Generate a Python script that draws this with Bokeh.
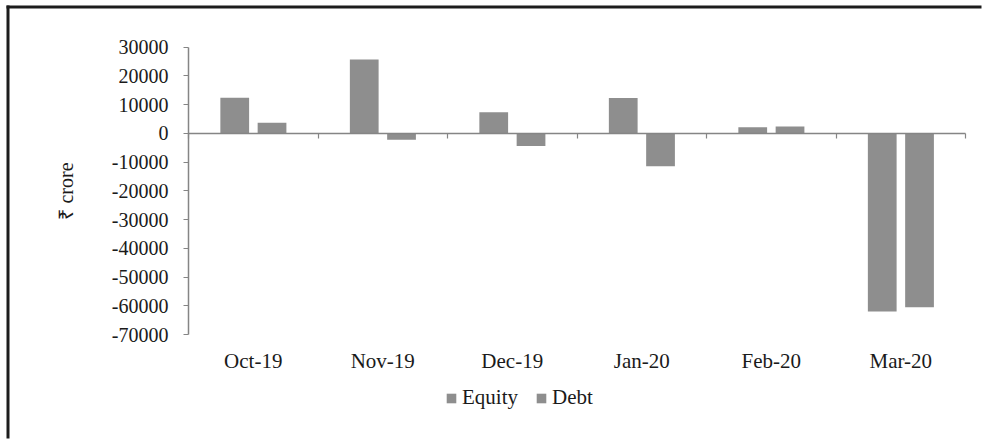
from bokeh.plotting import figure
from bokeh.models import (Range1d, FixedTicker, Legend, LegendItem,
                          ColumnDataSource, LinearAxis)
from bokeh.embed import file_html
from bokeh.resources import INLINE

# Monthly net FPI flows, in ₹ crore
months = ["Oct-19", "Nov-19", "Dec-19", "Jan-20", "Feb-20", "Mar-20"]
equity = [12400, 25700, 7400, 12300, 2100, -62000]
debt = [3700, -2200, -4400, -11400, 2400, -60500]
y_ticks = list(range(-70000, 30001, 10000))

FONT = "Liberation Serif"
BAR = "#8e8e8e"
AXIS = "#858585"
INK = "#1a1a1a"

# page geometry (pixels): the frame fills the canvas and the axes are
# pinned inside it, so the legend and the border can sit anywhere
W, H = 982, 439
AX_L, AX_R = 188, 965        # horizontal extent of the category axis
AX_T, AX_B = 46.7, 334       # pixel rows of the top and bottom y ticks

n = len(months)
ux = n / (AX_R - AX_L)
uy = (y_ticks[-1] - y_ticks[0]) / (AX_B - AX_T)
x0 = -AX_L * ux
y1 = y_ticks[-1] + AX_T * uy
x_range = Range1d(x0, n + (W - AX_R) * ux)
y_range = Range1d(y_ticks[0] - (H - AX_B) * uy, y1)


def px_x(px):
    return x0 + px * ux


def px_y(py):
    return y1 - py * uy


centers = [i + 0.5 for i in range(n)]
src = ColumnDataSource(dict(
    x_eq=[c - 0.143 for c in centers],
    x_db=[c + 0.145 for c in centers],
    equity=equity,
    debt=debt,
))

p = figure(width=W, height=H, output_backend="svg", toolbar_location=None,
           x_range=x_range, y_range=y_range,
           x_axis_location=None, y_axis_location=None, min_border=0)
p.grid.visible = False
p.outline_line_color = None
p.background_fill_color = "white"
p.border_fill_color = "white"

r_eq = p.vbar(x="x_eq", top="equity", bottom=0, width=0.222, source=src,
              fill_color=BAR, line_color=None)
r_db = p.vbar(x="x_db", top="debt", bottom=0, width=0.222, source=src,
              fill_color=BAR, line_color=None)

# category axis through zero, ticks at category boundaries
zero_axis = LinearAxis(fixed_location=0, bounds=(0, n),
                       ticker=FixedTicker(ticks=list(range(n + 1))),
                       major_label_overrides={i: "" for i in range(n + 1)},
                       axis_line_color=AXIS, axis_line_width=1.5,
                       major_tick_line_color=AXIS, major_tick_line_width=1.2,
                       major_tick_in=0, major_tick_out=5,
                       minor_tick_line_color=None)
p.add_layout(zero_axis, "below")

# month names under the plot
month_axis = LinearAxis(fixed_location=y_ticks[0],
                        ticker=FixedTicker(ticks=centers),
                        major_label_overrides={c: m for c, m in zip(centers, months)},
                        axis_line_color=None, major_tick_line_color=None,
                        minor_tick_line_color=None, major_tick_in=0, major_tick_out=0,
                        major_label_text_font=FONT, major_label_text_font_size="21px",
                        major_label_text_color=INK, major_label_standoff=14)
p.add_layout(month_axis, "below")

# value axis
y_axis = LinearAxis(fixed_location=0, bounds=(y_ticks[0], y_ticks[-1]),
                    ticker=FixedTicker(ticks=y_ticks),
                    major_label_overrides={t: str(t) for t in y_ticks},
                    axis_line_color=AXIS, axis_line_width=1.5,
                    major_tick_line_color=AXIS, major_tick_in=0, major_tick_out=5,
                    minor_tick_line_color=None,
                    major_label_text_font=FONT, major_label_text_font_size="20px",
                    major_label_text_color=INK, major_label_standoff=15,
                    axis_label="₹ crore", axis_label_text_font=FONT,
                    axis_label_text_font_style="normal",
                    axis_label_text_font_size="20px",
                    axis_label_text_color=INK, axis_label_standoff=32)
p.add_layout(y_axis, "left")

legend = Legend(items=[LegendItem(label="Equity", renderers=[r_eq]),
                       LegendItem(label="Debt", renderers=[r_db])],
                orientation="horizontal", location=(445, 29),
                label_text_font=FONT, label_text_font_size="21px",
                label_text_color=INK, glyph_width=12, glyph_height=12,
                label_standoff=5, spacing=17, padding=3, margin=0,
                border_line_color=None, background_fill_alpha=0)
p.add_layout(legend)

# panel border: heavy rules along the left and top edges
p.segment(x0=[px_x(7.5), px_x(6)], y0=[px_y(5), px_y(6.5)],
          x1=[px_x(7.5), px_x(W - 1)], y1=[px_y(H - 1), px_y(6.5)],
          line_color="#1c1c1c", line_width=3, line_cap="butt")

open("out.html", "w").write(file_html(p, INLINE))
